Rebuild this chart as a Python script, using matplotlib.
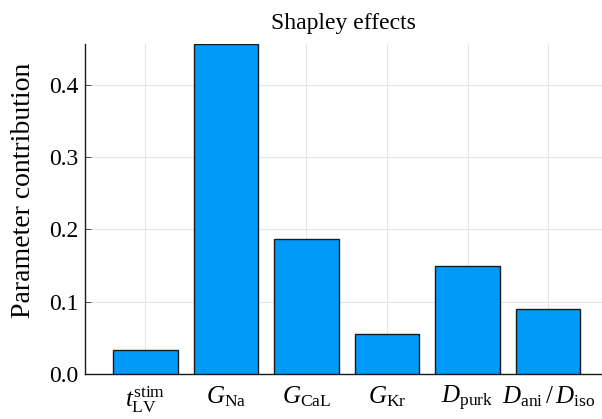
import matplotlib
matplotlib.use("Agg")
import matplotlib.pyplot as plt
import numpy as np

plt.rcParams['font.family'] = 'Liberation Serif'
plt.rcParams['mathtext.fontset'] = 'custom'
plt.rcParams['mathtext.rm'] = 'Liberation Serif'
plt.rcParams['mathtext.it'] = 'Liberation Serif:italic'

labels = [r'$t_{\mathrm{LV}}^{\mathrm{stim}}$', r'$G_{\mathrm{Na}}$', r'$G_{\mathrm{CaL}}$',
          r'$G_{\mathrm{Kr}}$', r'$D_{\mathrm{purk}}$', r'$D_{\mathrm{ani}}\,/\,D_{\mathrm{iso}}$']
values = [0.033, 0.456, 0.187, 0.056, 0.149, 0.090]
yticks = [0.0, 0.1, 0.2, 0.3, 0.4]

fig = plt.figure(figsize=(6.02, 4.19), dpi=100)
ax = fig.add_axes([85/602, (419-374.3)/419, 1 - 85/602, (374.3-44)/419])

x = np.arange(1, len(values) + 1)
ax.bar(x, values, width=0.8, color='#009AF9', edgecolor='#1a1a1a', linewidth=1.0, zorder=3)

ax.set_xlim(0.25, 6.67)
ax.set_ylim(0, max(values))
ax.set_xticks(x)
ax.set_xticklabels(labels, fontsize=18)
ax.set_yticks(yticks)
ax.set_yticklabels([f'{t:.1f}' for t in yticks], fontsize=17)
ax.grid(True, color='#e6e6e6', linewidth=0.8, zorder=0)
ax.tick_params(axis='both', direction='in', length=4, width=0.6, color='#333333', pad=5)
ax.tick_params(axis='x', length=0, pad=7)
for s in ['top', 'right']:
    ax.spines[s].set_visible(False)
for s in ['left', 'bottom']:
    ax.spines[s].set_linewidth(1.0)
    ax.spines[s].set_color('#1a1a1a')

ax.set_title('Shapley effects', fontsize=17, pad=11)
ax.set_ylabel('Parameter contribution', fontsize=20)
ax.yaxis.set_label_coords(-(85 - 36) / 517, (374.3 - 190) / 330.3)

fig.savefig('out.png', dpi=100)
